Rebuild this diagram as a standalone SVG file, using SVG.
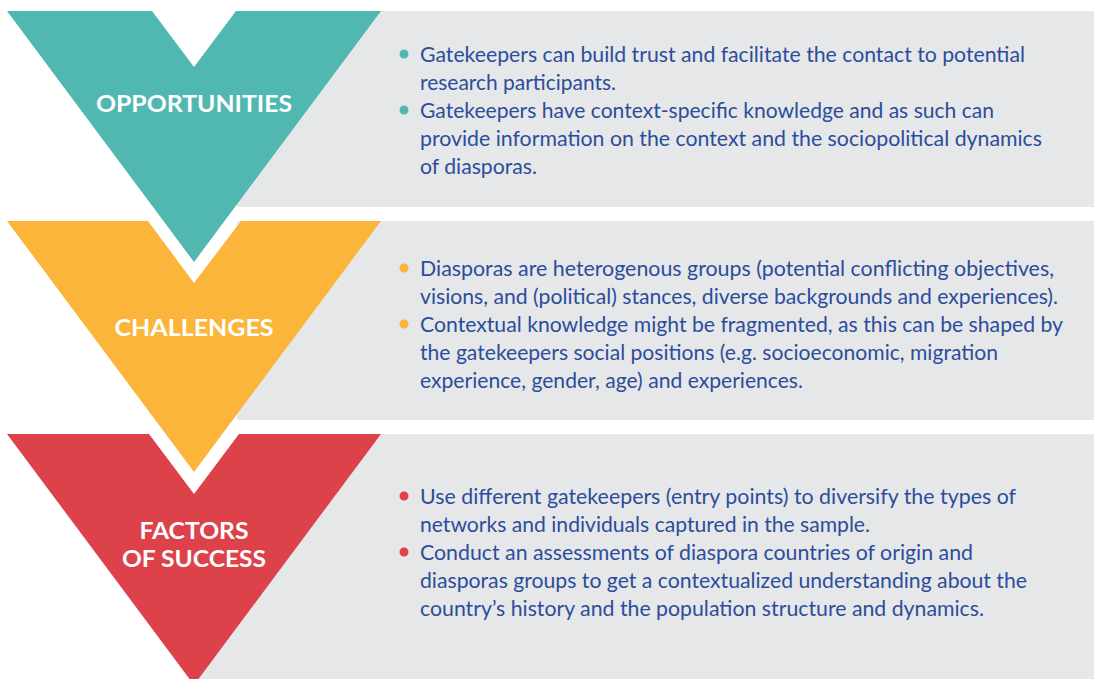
<svg xmlns="http://www.w3.org/2000/svg" width="1094" height="679" viewBox="0 0 1094 679">
<style>
.panel{fill:#E6E7E8}
.body{font-family:Lato,"Open Sans","Liberation Sans",sans-serif;font-size:21px;fill:#2B4D9C}
.label{font-family:Lato,"Open Sans","Liberation Sans",sans-serif;font-size:22px;font-weight:bold;fill:#FFFFFF;text-anchor:middle}
.teal{fill:#50B8B1}
.yellow{fill:#FBB53B}
.red{fill:#DD424A}
</style>
<rect x="0" y="0" width="1094" height="679" fill="#FFFFFF"/>
<g id="panels">
<rect class="panel" x="237" y="11" width="857" height="196"/>
<rect class="panel" x="237" y="221" width="857" height="199"/>
<polygon class="panel" points="241,434 1094,434 1094,679 194,679 240,620"/>
</g>
<g id="connectors"></g>
<g id="opportunities">
<polygon class="teal" points="7,11 152,11 194,67 236,11 381,11 194,262"/>
<text class="label" x="194" y="112" textLength="196" lengthAdjust="spacingAndGlyphs">OPPORTUNITIES</text>
<circle class="teal" cx="404" cy="54" r="4.5"/>
<circle class="teal" cx="404" cy="110" r="4.5"/>
<text class="body" x="420" y="62" textLength="605" lengthAdjust="spacingAndGlyphs">Gatekeepers can build trust and facilitate the contact to potential</text>
<text class="body" x="420" y="90" textLength="196" lengthAdjust="spacingAndGlyphs">research participants.</text>
<text class="body" x="420" y="118" textLength="574" lengthAdjust="spacingAndGlyphs">Gatekeepers have context-specific knowledge and as such can</text>
<text class="body" x="420" y="146" textLength="622" lengthAdjust="spacingAndGlyphs">provide information on the context and the sociopolitical dynamics</text>
<text class="body" x="420" y="174" textLength="117" lengthAdjust="spacingAndGlyphs">of diasporas.</text>
</g>
<g id="challenges">
<polygon class="yellow" points="7,221 148,221 194,283 241,221 381,221 194,472"/>
<text class="label" x="194" y="336" textLength="159" lengthAdjust="spacingAndGlyphs">CHALLENGES</text>
<circle class="yellow" cx="404" cy="268" r="4.5"/>
<circle class="yellow" cx="404" cy="324" r="4.5"/>
<text class="body" x="420" y="276" textLength="634" lengthAdjust="spacingAndGlyphs">Diasporas are heterogenous groups (potential conflicting objectives,</text>
<text class="body" x="420" y="304" textLength="638" lengthAdjust="spacingAndGlyphs">visions, and (political) stances, diverse backgrounds and experiences).</text>
<text class="body" x="420" y="332" textLength="643" lengthAdjust="spacingAndGlyphs">Contextual knowledge might be fragmented, as this can be shaped by</text>
<text class="body" x="420" y="360" textLength="578" lengthAdjust="spacingAndGlyphs">the gatekeepers social positions (e.g. socioeconomic, migration</text>
<text class="body" x="420" y="388" textLength="383" lengthAdjust="spacingAndGlyphs">experience, gender, age) and experiences.</text>
</g>
<g id="factors-of-success">
<polygon class="red" points="7,434 149,434 194,494 239,434 381,434 194,685"/>
<text class="label" x="194" y="539" textLength="109" lengthAdjust="spacingAndGlyphs">FACTORS</text>
<text class="label" x="194" y="567" textLength="144" lengthAdjust="spacingAndGlyphs">OF SUCCESS</text>
<circle class="red" cx="404" cy="496" r="4.5"/>
<circle class="red" cx="404" cy="552" r="4.5"/>
<text class="body" x="420" y="504" textLength="596" lengthAdjust="spacingAndGlyphs">Use different gatekeepers (entry points) to diversify the types of</text>
<text class="body" x="420" y="532" textLength="450" lengthAdjust="spacingAndGlyphs">networks and individuals captured in the sample.</text>
<text class="body" x="420" y="560" textLength="553" lengthAdjust="spacingAndGlyphs">Conduct an assessments of diaspora countries of origin and</text>
<text class="body" x="420" y="588" textLength="607" lengthAdjust="spacingAndGlyphs">diasporas groups to get a contextualized understanding about the</text>
<text class="body" x="420" y="616" textLength="564" lengthAdjust="spacingAndGlyphs">country’s history and the population structure and dynamics.</text>
</g>
</svg>
